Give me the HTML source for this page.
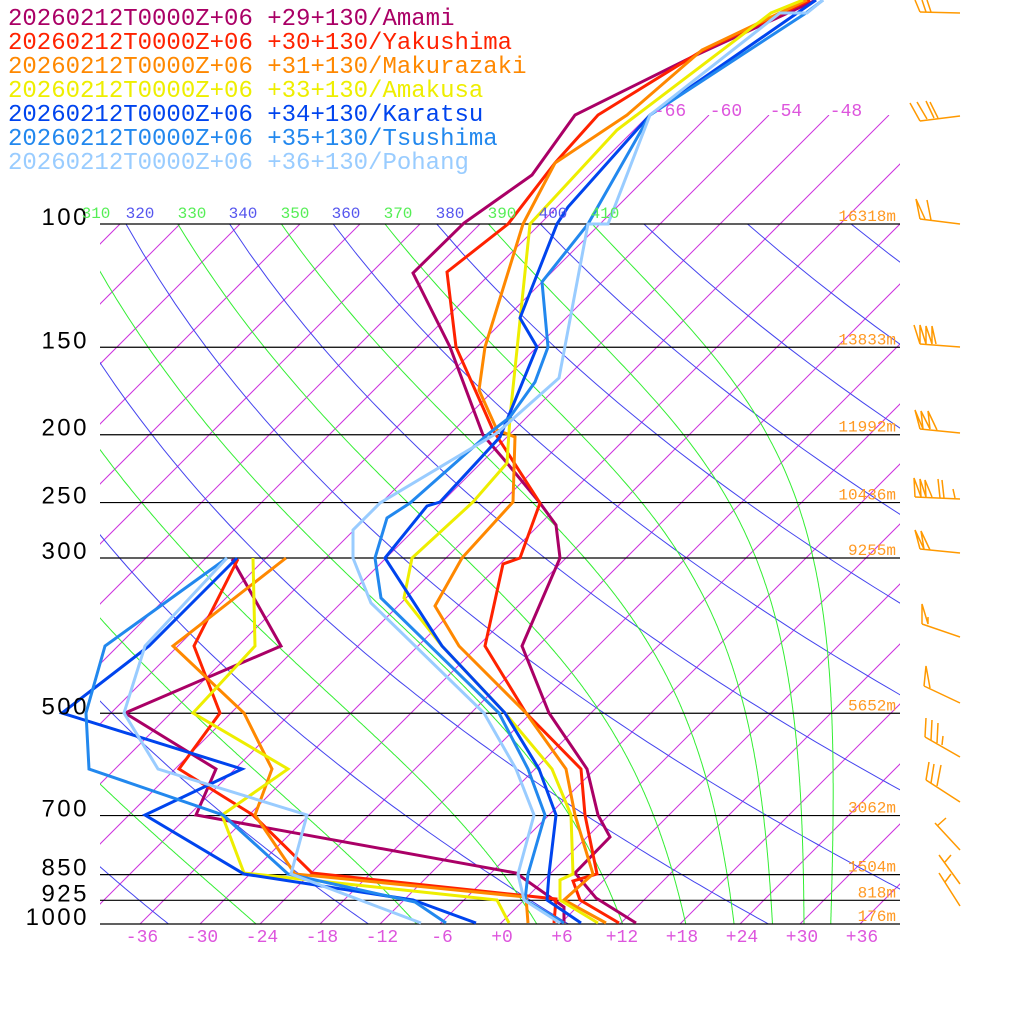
<!DOCTYPE html>
<html><head><meta charset="utf-8"><style>
html,body{margin:0;padding:0;background:#fff;}
svg{display:block;}
.leg{font-family:"Liberation Mono",monospace;font-size:24px;}
.pl{font-family:"Liberation Sans",sans-serif;font-size:24px;fill:#000;letter-spacing:2.5px;}
.tk{font-family:"Liberation Mono",monospace;font-size:18px;fill:#dd55dd;}
.th{font-family:"Liberation Mono",monospace;font-size:16px;}
.hm{font-family:"Liberation Mono",monospace;font-size:16px;fill:#ff9922;}
</style></head><body>
<svg id="s" width="1024" height="1024" viewBox="0 0 1024 1024" xmlns="http://www.w3.org/2000/svg">
<defs>
<clipPath id="c1"><rect x="100" y="115" width="800" height="809"/></clipPath>
<clipPath id="c2"><rect x="100" y="224" width="800" height="700"/></clipPath>
</defs>
<g id="iso" clip-path="url(#c1)" stroke="#cc33dd" stroke-width="1" fill="none"></g>
<g id="ad" clip-path="url(#c2)" fill="none" stroke-width="1"></g>
<g id="pl" stroke="#000" stroke-width="1.2"></g>
<g id="data" fill="none" stroke-width="3" stroke-linejoin="miter"></g>
<g id="txt"></g>
<g id="barbs" stroke="#ff9900" stroke-width="1.5" fill="none"></g>
</svg>
<script>
var NS="http://www.w3.org/2000/svg";
function el(par,tag,attrs,text){var e=document.createElementNS(NS,tag);for(var k in attrs)e.setAttribute(k,attrs[k]);if(text!==undefined)e.textContent=text;document.getElementById(par).appendChild(e);return e;}
function yp(p){return 924-304*Math.log(1000/p);}
function xT(T,y){return 500+10*T+(924-y);}
// isotherms
for(var T=-150;T<=60;T+=6){
  var y1=924,y2=(T>=-66)?115:224;
  el("iso","line",{x1:xT(T,y1),y1:y1,x2:xT(T,y2),y2:y2});
}
// dry adiabats (blue)
for(var th=160;th<=480;th+=20){
  var pts=[];
  for(var p=100;p<=1000;p+=10){var y=yp(p);var Tk=th*Math.pow(p/1000,0.2857);pts.push(xT(Tk-273.15,y).toFixed(1)+","+y.toFixed(1));}
  el("ad","polyline",{points:pts.join(" "),stroke:"#4444ee"});
}
// moist adiabats (green)
function dTdp(p,T){var Tc=T-273.15;var es=6.112*Math.exp(17.67*Tc/(Tc+243.5));var rs=0.622*es/(p-es);
 return (287*T+2.5e6*rs)/(p*(1004+2.5e6*2.5e6*rs*0.622/(287*T*T)));}
for(var th=150;th<=410;th+=20){
  var p=100,T=th*Math.pow(0.1,0.2857),pts=[];
  while(p<=1000.01){var y=yp(p);pts.push(xT(T-273.15,y).toFixed(1)+","+y.toFixed(1));
    var dp=2;var k1=dTdp(p,T);var k2=dTdp(p+dp,T+k1*dp);T+=0.5*(k1+k2)*dp;p+=dp;}
  el("ad","polyline",{points:pts.join(" "),stroke:"#33ee33"});
}
// pressure lines & labels
var lv=[[100,"100"],[150,"150"],[200,"200"],[250,"250"],[300,"300"],[500,"500"],[700,"700"],[850,"850"],[925,"925"],[1000,"1000"]];
lv.forEach(function(a){var y=yp(a[0]);el("pl","line",{x1:100,y1:y,x2:900,y2:y});
 el("txt","text",{x:89,y:y+1,"text-anchor":"end","class":"pl"},a[1]);});
// heights
var hs=[[100,"16318m"],[150,"13833m"],[200,"11992m"],[250,"10436m"],[300,"9255m"],[500,"5652m"],[700,"3062m"],[850,"1504m"],[925,"818m"],[1000,"176m"]];
hs.forEach(function(a){el("txt","text",{x:896,y:yp(a[0])-3,"text-anchor":"end","class":"hm"},a[1]);});
// bottom ticks
for(var t=-36;t<=36;t+=6){var s=t>0?"+"+t:(t==0?"+0":""+t);el("txt","text",{x:500+10*t+2,y:942,"text-anchor":"middle","class":"tk"},s);}
// top isotherm labels
[[-66,670],[-60,726],[-54,786],[-48,846]].forEach(function(a){el("txt","text",{x:a[1],y:116,"text-anchor":"middle","class":"tk"},""+a[0]);});
// theta labels
var thl=[[310,96,"#55ee55"],[320,140,"#5555ee"],[330,192,"#55ee55"],[340,243,"#5555ee"],[350,295,"#55ee55"],[360,346,"#5555ee"],[370,398,"#55ee55"],[380,450,"#5555ee"],[390,502,"#55ee55"],[400,553,"#5555ee"],[410,605,"#55ee55"]];
thl.forEach(function(a){el("txt","text",{x:a[1],y:218,"text-anchor":"middle","class":"th",fill:a[2]},""+a[0]);});
// data
var S=[
["#aa0066","816,0 692,57 575,115 532,175 464,223 413,273 450,347 483,435 507,463 540,503 556,525 560,558 522,646 549,713 587,769 598,815 610,837 575,873 596,898 636,923","232,559 281,646 125,713 216,769 196,815 516,873 564,907 564,923"],
["#ff2200","810,0 700,52 598,115 555,163 508,224 447,272 456,347 493,430 540,503 520,558 503,564 485,646 526,713 581,769 585,815 597,874 573,881 580,900 619,923","238,559 194,646 220,713 179,769 253,815 312,873 556,899 554,923"],
["#ff8800","807,0 702,50 627,115 555,163 523,224 485,347 479,390 497,430 515,437 513,502 462,558 435,606 459,646 526,713 566,769 575,815 593,874 564,900 606,923","286,558 173,646 244,713 272,769 255,815 295,874 526,897 528,923"],
["#eeee00","803,0 771,13 617,130 530,224 510,417 507,463 473,502 412,558 404,598 442,646 505,713 552,769 571,815 573,874 560,880 560,900 598,923","253,558 255,646 193,713 288,769 222,815 244,873 497,900 509,923"],
["#0044ee","816,0 650,115 568,207 557,224 520,318 537,347 500,437 440,502 427,506 385,558 442,646 505,713 539,769 556,815 549,874 547,900 581,923","237,558 149,646 62,713 242,769 145,815 244,874 413,900 476,923"],
["#2288ee","823,0 806,13 650,115 588,224 542,282 548,347 535,382 510,417 487,435 410,503 387,518 375,558 381,598 499,713 528,769 545,815 528,874 525,900 564,923","227,558 105,646 86,713 89,769 223,815 288,874 415,902 446,923"],
["#99ccff","823,0 807,13 780,13 650,115 608,224 588,224 559,378 497,433 380,503 353,530 353,558 371,603 484,713 516,769 534,815 518,874 524,900 560,923","227,558 145,646 124,713 158,769 307,815 291,874 421,923"]];
var names=["+29+130/Amami","+30+130/Yakushima","+31+130/Makurazaki","+33+130/Amakusa","+34+130/Karatsu","+35+130/Tsushima","+36+130/Pohang"];
S.forEach(function(s,i){el("data","polyline",{points:s[1],stroke:s[0]});el("data","polyline",{points:s[2],stroke:s[0]});
 el("txt","text",{x:8,y:25+24*i,"class":"leg",fill:s[0]},"20260212T0000Z+06 "+names[i]);});
function L(a,b,c,d){el("barbs","line",{x1:a,y1:b,x2:c,y2:d});}
function P(pts){el("barbs","polyline",{points:pts});}
L(960,13,920,12);L(920,12,915,0);L(926,12,922,0);L(931,12,927,0);
L(960,116,920,121);L(920,121,910,103);L(927,119,917,102);L(934,118,926,101);L(938,118,930,102);
L(960,224,920,219);P("920,219 916,199 925,219");L(931,220,927,200);
L(960,347,920,344);P("920,344 914,325 920,344 920,325 926,344 926,326 932,344 932,326 936,344");
L(960,433,920,429);P("920,429 915,410 923,429 921,411 930,429 928,411 937,430");
L(960,499,915,497);P("915,497 914,478 921,497 920,479 926,497 925,480 932,497");L(940,498,938,479);L(944,498,942,480);L(955,498,953,489);
L(960,553,920,549);P("920,549 915,530 924,549 921,531 930,550");
L(960,637,922,624);P("922,624 922,604 928,624 928,617");
L(960,703,924,686);P("924,686 926,666 930,688");
L(960,757,925,737);L(925,737,926,718);L(931,740,932,720);L(937,743,938,723);L(942,745,943,736);
L(960,802,926,780);L(926,780,929,762);L(931,783,934,764);L(937,786,941,765);
L(960,850,935,823);L(937,826,946,818);
L(960,884,939,855);L(945,862,951,855);
L(960,906,939,873);L(945,882,951,874);
</script>
</body></html>
